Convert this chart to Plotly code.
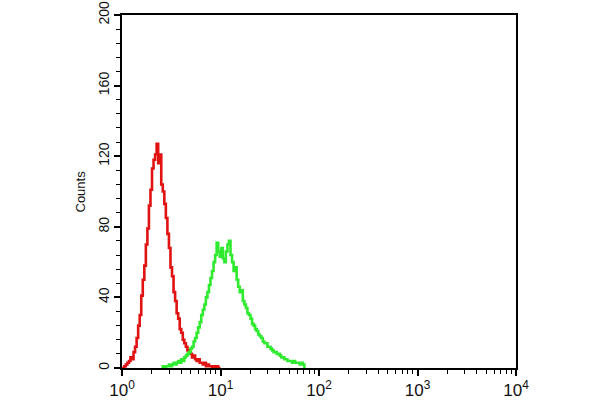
import numpy as np
import plotly.graph_objects as go

# 256-channel histogram over 4 decades (64 channels per decade)
CHANNELS_PER_DECADE = 64

red_start = 0
red_counts = [0, 0, 1, 2, 3, 4, 6, 5, 9, 12, 17, 24, 30, 41, 50, 58, 70, 79, 92, 101,
              113, 118, 121, 127, 116, 121, 104, 100, 93, 85, 76, 68, 57, 52, 43, 38,
              31, 28, 22, 20, 16, 14, 12, 10, 9, 8, 6, 7, 5, 4, 5, 3, 3, 2, 3, 1, 2, 1,
              1, 0, 1, 0, 1, 0, 0]

green_start = 26
green_counts = [0, 1, 0, 1, 1, 2, 1, 2, 3, 2, 3, 4, 3, 5, 4, 6, 7, 8, 9, 11, 12, 15, 17,
                20, 23, 26, 30, 33, 36, 40, 43, 47, 51, 55, 60, 64, 71, 66, 63, 68, 62,
                60, 66, 70, 72, 64, 60, 55, 57, 50, 46, 43, 44, 38, 36, 34, 31, 30, 28,
                25, 24, 22, 21, 19, 18, 17, 15, 14, 14, 12, 12, 11, 10, 9, 9, 8, 8, 7,
                6, 6, 5, 5, 4, 4, 4, 3, 4, 3, 3, 3, 2, 3, 2, 0]

x_tick_vals = [1, 10, 100, 1000, 10000]
x_tick_text = ["10<sup>0</sup>", "10<sup>1</sup>", "10<sup>2</sup>", "10<sup>3</sup>", "10<sup>4</sup>"]
y_tick_vals = [0, 40, 80, 120, 160, 200]
y_title = "Counts"


def chan_x(start, n):
    return [10 ** ((start + i) / CHANNELS_PER_DECADE) for i in range(n)]


fig = go.Figure()
fig.add_trace(go.Scatter(x=chan_x(red_start, len(red_counts)), y=red_counts,
                         mode="lines", line=dict(color="#e01212", width=2.6, shape="hvh"),
                         hoverinfo="skip"))
fig.add_trace(go.Scatter(x=chan_x(green_start, len(green_counts)), y=green_counts,
                         mode="lines", line=dict(color="#30ea30", width=2.6, shape="hvh"),
                         hoverinfo="skip"))

fnt = dict(family="Liberation Sans, Arial, sans-serif", color="#111111")

L, R, T, B = 122, 84, 15, 32
fig.update_layout(
    width=600, height=400,
    margin=dict(l=L, r=R, t=T, b=B, autoexpand=False),
    paper_bgcolor="white", plot_bgcolor="white",
    showlegend=False,
    font=fnt,
)
fig.update_xaxes(
    type="log", range=[0, 4], automargin=False,
    tickvals=x_tick_vals, ticktext=x_tick_text,
    tickfont=dict(size=17, **fnt),
    ticks="outside", ticklen=6, tickwidth=1.5, tickcolor="black",
    minor=dict(ticks="outside", ticklen=4, tickwidth=1.2, tickcolor="black", dtick="D1", showgrid=False),
    showline=True, linecolor="black", linewidth=1.5, mirror=True,
    showgrid=False, zeroline=False,
)
fig.update_yaxes(
    range=[0, 200], automargin=False,
    tickvals=y_tick_vals,
    tickangle=-90,
    tickfont=dict(size=14, **fnt),
    ticks="outside", ticklen=6, tickwidth=1.5, tickcolor="black",
    minor=dict(ticks="outside", ticklen=4, tickwidth=1.2, tickcolor="black", dtick=8, showgrid=False),
    showline=True, linecolor="black", linewidth=1.5, mirror=True,
    showgrid=False, zeroline=False,
)
plot_w = 600 - L - R
fig.add_annotation(text=y_title, textangle=-90, showarrow=False,
                   xref="paper", yref="paper", x=(80 - L) / plot_w, y=0.5,
                   xanchor="center", yanchor="middle", font=dict(size=13, **fnt))

fig.write_html("out.html", config={"displayModeBar": False},
               post_script="document.body.style.margin='0';")
